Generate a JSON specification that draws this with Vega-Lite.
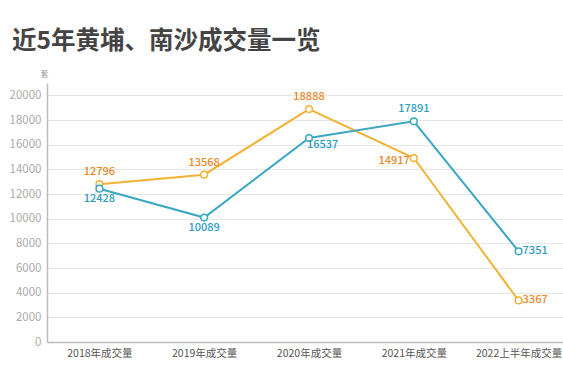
{
  "$schema": "https://vega.github.io/schema/vega-lite/v6.json",
  "width": 524,
  "height": 259,
  "autosize": "none",
  "padding": {"left": 47, "top": 83, "right": 0, "bottom": 26},
  "background": "white",
  "config": {"font": "Noto Sans CJK SC", "view": {"stroke": null}},
  "title": {
    "text": "近5年黄埔、南沙成交量一览",
    "anchor": "start",
    "frame": "group",
    "dx": -35,
    "offset": 16,
    "fontSize": 24.5,
    "font": "Noto Sans CJK SC",
    "fontWeight": "bold",
    "color": "#444444"
  },
  "data": {
    "values": [
      {"period": "2018年成交量", "series": "黄埔", "value": 12796},
      {"period": "2019年成交量", "series": "黄埔", "value": 13568},
      {"period": "2020年成交量", "series": "黄埔", "value": 18888},
      {"period": "2021年成交量", "series": "黄埔", "value": 14917},
      {"period": "2022上半年成交量", "series": "黄埔", "value": 3367},
      {"period": "2018年成交量", "series": "南沙", "value": 12428},
      {"period": "2019年成交量", "series": "南沙", "value": 10089},
      {"period": "2020年成交量", "series": "南沙", "value": 16537},
      {"period": "2021年成交量", "series": "南沙", "value": 17891},
      {"period": "2022上半年成交量", "series": "南沙", "value": 7351}
    ]
  },
  "encoding": {
    "x": {
      "field": "period",
      "type": "ordinal",
      "sort": null,
      "scale": {"type": "point", "padding": 0.5},
      "axis": {
        "title": null,
        "labelAngle": 0,
        "ticks": false,
        "grid": false,
        "domainColor": "#bbbbbb",
        "domainWidth": 1.5,
        "labelColor": "#555555",
        "labelFontSize": 10.5,
        "labelPadding": 6
      }
    },
    "y": {
      "field": "value",
      "type": "quantitative",
      "scale": {"domain": [0, 21000], "nice": false},
      "axis": {
        "values": [0, 2000, 4000, 6000, 8000, 10000, 12000, 14000, 16000, 18000, 20000],
        "format": "d",
        "ticks": false,
        "grid": true,
        "gridColor": "#e6e6e6",
        "domainColor": "#bbbbbb",
        "domainWidth": 1.5,
        "labelColor": "#aaaaaa",
        "labelFontSize": 11.5,
        "labelPadding": 6,
        "title": "套",
        "titleAngle": 0,
        "titleX": -3,
        "titleY": -5,
        "titleAlign": "center",
        "titleBaseline": "bottom",
        "titleFontSize": 8,
        "titleFontWeight": "normal",
        "titleColor": "#999999"
      }
    }
  },
  "layer": [
    {
      "mark": {"type": "line", "strokeWidth": 2},
      "encoding": {
        "color": {"field": "series", "type": "nominal", "scale": {"domain": ["黄埔", "南沙"], "range": ["#F2B233", "#3BA7C3"]}, "legend": null}
      }
    },
    {
      "mark": {"type": "point", "filled": false, "fill": "white", "fillOpacity": 1, "size": 45, "strokeWidth": 1.5, "opacity": 1},
      "encoding": {
        "color": {"field": "series", "type": "nominal", "scale": {"domain": ["黄埔", "南沙"], "range": ["#F2B233", "#3BA7C3"]}, "legend": null}
      }
    },
    {
      "transform": [{"filter": "(datum.series === '黄埔' && (datum.period === '2018年成交量' || datum.period === '2019年成交量' || datum.period === '2020年成交量')) || (datum.series === '南沙' && datum.period === '2021年成交量')"}],
      "mark": {"type": "text", "baseline": "middle", "align": "center", "dy": -12, "fontSize": 11, "fontWeight": 500},
      "encoding": {
        "text": {"field": "value", "type": "quantitative", "format": "d"},
        "color": {"condition": {"test": "datum.series === '黄埔'", "value": "#E8892B"}, "value": "#2E9DC0"}
      }
    },
    {
      "transform": [{"filter": "datum.series === '南沙' && (datum.period === '2018年成交量' || datum.period === '2019年成交量')"}],
      "mark": {"type": "text", "baseline": "middle", "align": "center", "dy": 10, "fontSize": 11, "fontWeight": 500},
      "encoding": {
        "text": {"field": "value", "type": "quantitative", "format": "d"},
        "color": {"condition": {"test": "datum.series === '黄埔'", "value": "#E8892B"}, "value": "#2E9DC0"}
      }
    },
    {
      "transform": [{"filter": "datum.series === '南沙' && datum.period === '2020年成交量'"}],
      "mark": {"type": "text", "baseline": "middle", "align": "left", "dx": -2, "dy": 7, "fontSize": 11, "fontWeight": 500},
      "encoding": {
        "text": {"field": "value", "type": "quantitative", "format": "d"},
        "color": {"condition": {"test": "datum.series === '黄埔'", "value": "#E8892B"}, "value": "#2E9DC0"}
      }
    },
    {
      "transform": [{"filter": "datum.series === '黄埔' && datum.period === '2021年成交量'"}],
      "mark": {"type": "text", "baseline": "middle", "align": "right", "dx": -4, "dy": 3, "fontSize": 11, "fontWeight": 500},
      "encoding": {
        "text": {"field": "value", "type": "quantitative", "format": "d"},
        "color": {"condition": {"test": "datum.series === '黄埔'", "value": "#E8892B"}, "value": "#2E9DC0"}
      }
    },
    {
      "transform": [{"filter": "datum.period === '2022上半年成交量'"}],
      "mark": {"type": "text", "baseline": "middle", "align": "left", "dx": 4, "dy": 0, "fontSize": 11, "fontWeight": 500},
      "encoding": {
        "text": {"field": "value", "type": "quantitative", "format": "d"},
        "color": {"condition": {"test": "datum.series === '黄埔'", "value": "#E8892B"}, "value": "#2E9DC0"}
      }
    }
  ]
}
